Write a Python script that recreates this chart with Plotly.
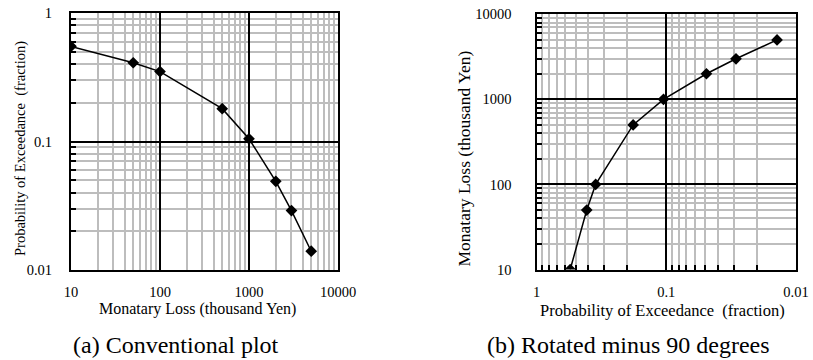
import plotly.graph_objects as go

# Data
loss = [10, 50, 100, 500, 1000, 2000, 3000, 5000]          # thousand Yen
prob = [0.55, 0.41, 0.35, 0.18, 0.105, 0.049, 0.029, 0.014]  # fraction

loss_ticks = [10, 100, 1000, 10000]
loss_ticktext = ["10", "100", "1000", "10000"]
prob_ticks = [0.01, 0.1, 1]
prob_ticktext = ["0.01", "0.1", "1"]

FONT = "Liberation Serif, Times New Roman, DejaVu Serif, serif"
MAJ = "#000000"
MINC = "#bdbdbd"

W, H = 813, 360


def px(sx):
    return sx / W


def py(sy):
    return 1 - sy / H


def minors(lo_exp, hi_exp):
    return [m * 10 ** e for e in range(lo_exp, hi_exp) for m in range(2, 10)]


loss_minor = minors(1, 4)
prob_minor = minors(-2, 0)

fig = go.Figure()

marker = dict(symbol="diamond", size=9, color="black")
line = dict(color="black", width=1.5)

fig.add_trace(go.Scatter(x=loss, y=prob, mode="lines+markers", marker=marker,
                         line=line, xaxis="x", yaxis="y", showlegend=False))
fig.add_trace(go.Scatter(x=prob, y=loss, mode="lines+markers", marker=marker,
                         line=line, xaxis="x2", yaxis="y2", showlegend=False))

tickfont = dict(family=FONT, size=14.5, color="black")

common = dict(type="log", showline=True, linecolor="black", linewidth=2,
              mirror=True, gridcolor=MAJ, gridwidth=1.5, zeroline=False,
              tickfont=tickfont, ticks="", automargin=False,
              ticklabeloverflow="allow")

xd1 = [px(71), px(338)]
yd1 = [py(270), py(13)]
xd2 = [px(536.5), px(796)]
yd2 = [py(269.5), py(14.3)]

minor_inside = dict(showgrid=True, gridcolor=MINC, gridwidth=1.5,
                    ticks="inside", ticklen=5, tickcolor="black", tickwidth=1.5)

fig.update_layout(
    width=W, height=H,
    margin=dict(l=0, r=0, t=0, b=0),
    paper_bgcolor="white", plot_bgcolor="white",
    font=dict(family=FONT, color="black"),
    xaxis=dict(common, domain=xd1, anchor="y", range=[1, 4],
               tickvals=loss_ticks, ticktext=loss_ticktext,
               ticklabelstandoff=8,
               minor=dict(tickvals=loss_minor, showgrid=True,
                          gridcolor=MINC, gridwidth=1.5, ticks="")),
    yaxis=dict(common, domain=yd1, anchor="x", range=[-2, 0],
               tickvals=prob_ticks, ticktext=prob_ticktext,
               ticklabelstandoff=14,
               minor=dict(minor_inside, tickvals=prob_minor)),
    xaxis3=dict(type="log", overlaying="x", side="top", anchor="y",
                range=[1, 4], showgrid=False, showticklabels=False,
                tickvals=[], zeroline=False, automargin=False,
                minor=dict(tickvals=loss_minor, ticks="inside", ticklen=5,
                           tickcolor="black", tickwidth=1.5, showgrid=False)),
    xaxis2=dict(common, domain=xd2, anchor="y2", range=[0, -2],
                tickvals=prob_ticks, ticktext=prob_ticktext,
                ticklabelstandoff=8,
                minor=dict(minor_inside, tickvals=prob_minor)),
    yaxis2=dict(common, domain=yd2, anchor="x2", range=[1, 4],
                tickvals=loss_ticks, ticktext=loss_ticktext,
                ticklabelstandoff=20,
                minor=dict(minor_inside, tickvals=loss_minor)),
)


def ttl(size):
    return dict(family=FONT, size=size, color="black")


ann = []
ann.append(dict(text="Monatary Loss (thousand Yen)", x=px(197),
                y=py(309), xref="paper", yref="paper", showarrow=False,
                font=ttl(16), xanchor="center", yanchor="middle"))
ann.append(dict(text="Probability of Exceedance  (fraction)", x=px(20),
                y=py(149), xref="paper", yref="paper",
                showarrow=False, textangle=-90, font=ttl(14.5),
                xanchor="center", yanchor="middle"))
ann.append(dict(text="Probability of Exceedance  (fraction)",
                x=px(662.5), y=py(310), xref="paper",
                yref="paper", showarrow=False, font=ttl(16.5),
                xanchor="center", yanchor="middle"))
ann.append(dict(text="Monatary Loss (thousand Yen)", x=px(463),
                y=py(158.5), xref="paper", yref="paper",
                showarrow=False, textangle=-90, font=ttl(17.5),
                xanchor="center", yanchor="middle"))
cap = dict(family=FONT, size=24, color="black")
ann.append(dict(text="(a) Conventional plot", x=px(176), y=py(345),
                xref="paper", yref="paper", showarrow=False, font=cap,
                xanchor="center", yanchor="middle"))
ann.append(dict(text="(b) Rotated minus 90 degrees", x=px(628.5),
                y=py(345), xref="paper", yref="paper", showarrow=False,
                font=cap, xanchor="center", yanchor="middle"))
fig.update_layout(annotations=ann)

fig.write_html("out.html",
               config={"displayModeBar": False},
               post_script="document.body.style.margin='0';"
                           "document.body.style.overflow='hidden';")
